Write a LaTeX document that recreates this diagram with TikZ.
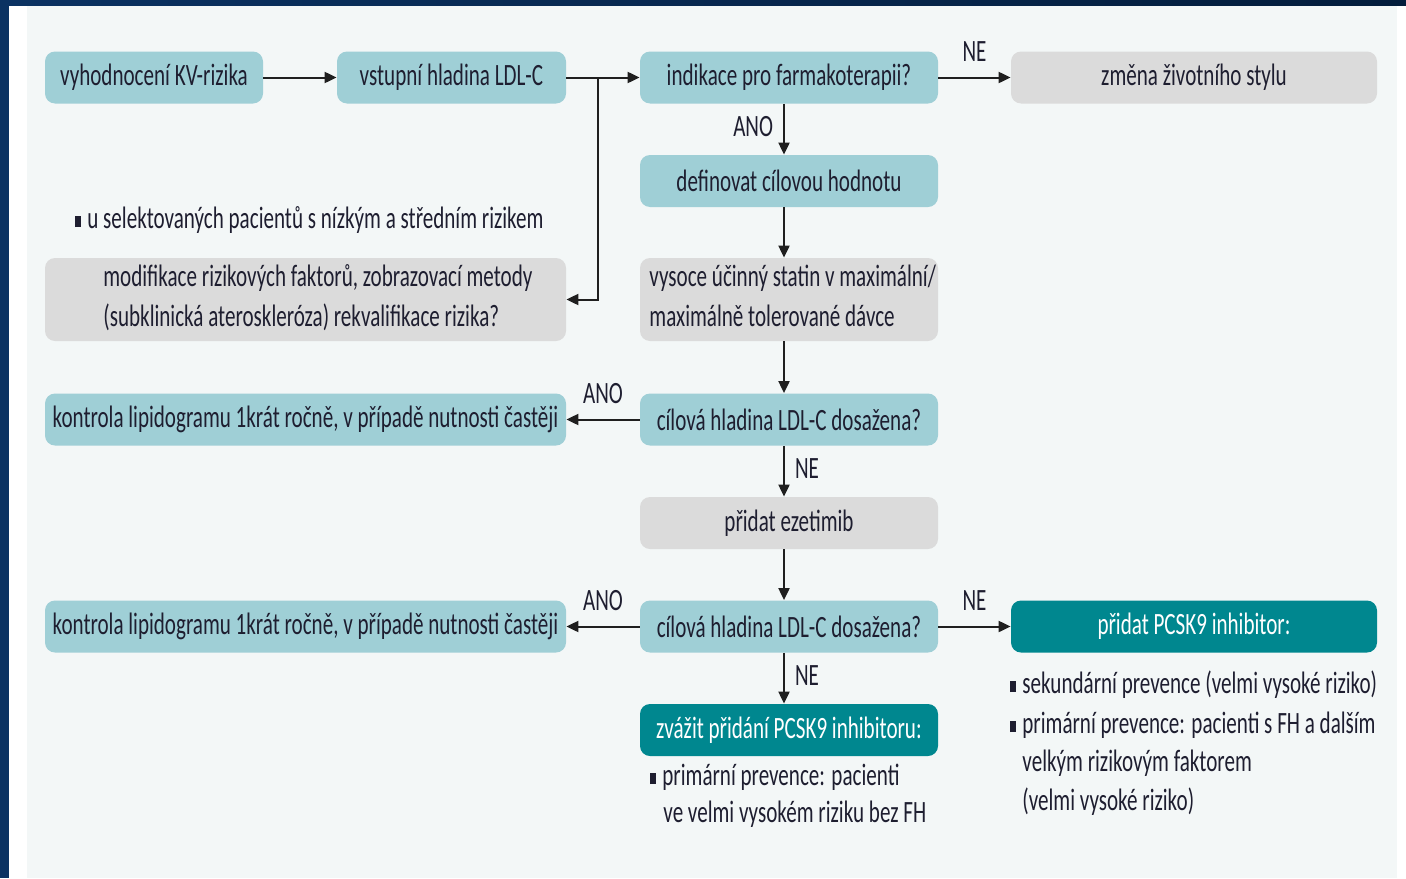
\documentclass[tikz,border=0pt]{standalone}
\usepackage{fontspec}
\setmainfont{Carlito}[FakeStretch=0.68]
\usetikzlibrary{arrows.meta}
\definecolor{navyA}{HTML}{0B3262}
\definecolor{navyB}{HTML}{031D3C}
\definecolor{panel}{HTML}{F3F7F7}
\definecolor{boxlt}{HTML}{9FCFD6}
\definecolor{boxgy}{HTML}{DBDBDB}
\definecolor{boxdk}{HTML}{00878F}
\definecolor{txt}{HTML}{1E1E30}
\newcommand\dgfont{\fontsize{15.5pt}{18.5pt}\selectfont}
\newcommand\bul{\rule[0.5pt]{2.6pt}{5.5pt}\hspace{3.4pt}}
\tikzset{
  box/.style={rounded corners=5pt, inner sep=0pt, font=\dgfont, text=txt, minimum height=26pt},
  lt/.style={box, fill=boxlt},
  gy/.style={box, fill=boxgy},
  dk/.style={box, fill=boxdk, text=white},
  lbl/.style={font=\dgfont, text=txt, inner sep=0pt, text height=10pt, text depth=3pt},
  arr/.style={-{Triangle[length=6pt,width=5.5pt]}, line width=1pt, draw=black!88},
  ln/.style={line width=1pt, draw=black!88}
}
\begin{document}
\begin{tikzpicture}[x=0.5pt,y=-0.5pt]
\useasboundingbox (0,0) rectangle (1406,878);
\fill[white] (0,0) rectangle (1406,878);
\fill[panel] (27,5) rectangle (1397,878);
\fill[navyA] (0,0) rectangle (9,878);
\shade[left color=navyA, right color=navyB] (0,0) rectangle (1406,5);

% row 1
\node[lt, minimum width=109pt] (A) at (154,77.5) {vyhodnocení KV-rizika};
\node[lt, minimum width=114.5pt] (B) at (451.5,77.5) {vstupní hladina LDL-C};
\node[lt, minimum width=149pt] (C) at (789,77.5) {indikace pro farmakoterapii?};
\node[gy, minimum width=183pt] (D) at (1194,77.5) {změna životního stylu};
% row 2
\node[lt, minimum width=149pt] (E) at (789,181) {definovat cílovou hodnotu};
\node[lbl, anchor=west] (sel) at (75,221) {\bul u selektovaných pacientů s nízkým a středním rizikem};
% row 3
\node[gy, minimum width=260.5pt, minimum height=41.5pt] (F) at (305.5,299.5) {};
\node[lbl, anchor=west] (F1) at (103,279) {modifikace rizikových faktorů, zobrazovací metody};
\node[lbl, anchor=west] (F2) at (103,319) {(subklinická ateroskleróza) rekvalifikace rizika?};
\node[gy, minimum width=149pt, minimum height=41.5pt] (G) at (789,299.5) {};
\node[lbl, anchor=west] (G1) at (649,279) {vysoce účinný statin v maximální/};
\node[lbl, anchor=west] (G2) at (649,319) {maximálně tolerované dávce};
% row 4
\node[lt, minimum width=149pt] (H) at (789,419.5) {cílová hladina LDL-C dosažena?};
\node[lt, minimum width=260.5pt] (I) at (305.5,419.5) {kontrola lipidogramu 1krát ročně, v případě nutnosti častěji};
% row 5
\node[gy, minimum width=149pt] (J) at (789,523) {přidat ezetimib};
% row 6
\node[lt, minimum width=149pt] (K) at (789,626.5) {cílová hladina LDL-C dosažena?};
\node[lt, minimum width=260.5pt] (L) at (305.5,626.5) {kontrola lipidogramu 1krát ročně, v případě nutnosti častěji};
\node[dk, minimum width=183pt] (M) at (1194,626.5) {přidat PCSK9 inhibitor:};
% row 7
\node[dk, minimum width=149pt] (N) at (789,730) {zvážit přidání PCSK9 inhibitoru:};
\node[lbl, anchor=west] (N1) at (650,778) {\bul primární prevence: pacienti};
\node[lbl, anchor=west] (N2) at (663,815) {ve velmi vysokém riziku bez FH};
\node[lbl, anchor=west] (M1) at (1010,686) {\bul sekundární prevence (velmi vysoké riziko)};
\node[lbl, anchor=west] (M2) at (1010,726) {\bul primární prevence: pacienti s FH a dalším};
\node[lbl, anchor=west] (M3) at (1022,764) {velkým rizikovým faktorem};
\node[lbl, anchor=west] (M4) at (1022,803) {(velmi vysoké riziko)};

% connectors
\draw[arr] (A) -- (B);
\draw[arr] (B) -- (C);
\coordinate (br) at (598,77.5);
\draw[arr] (br) |- (F.east);
\draw[arr] (C) -- (D) node[lbl, midway, above=4.5pt] (lNE1) {NE};
\draw[arr] ([xshift=-2.5pt]C.south) -- ([xshift=-2.5pt]E.north) node[lbl, midway, left=5pt] (lANO1) {ANO};
\draw[arr] ([xshift=-2.5pt]E.south) -- ([xshift=-2.5pt]G.north);
\draw[arr] ([xshift=-2.5pt]G.south) -- ([xshift=-2.5pt]H.north);
\draw[arr] (H) -- (I) node[lbl, midway, above=4.5pt] (lANO2) {ANO};
\draw[arr] ([xshift=-2.5pt]H.south) -- ([xshift=-2.5pt]J.north) node[lbl, midway, right=5pt] (lNE2) {NE};
\draw[arr] ([xshift=-2.5pt]J.south) -- ([xshift=-2.5pt]K.north);
\draw[arr] (K) -- (L) node[lbl, midway, above=4.5pt] (lANO3) {ANO};
\draw[arr] (K) -- (M) node[lbl, midway, above=4.5pt] (lNE3) {NE};
\draw[arr] ([xshift=-2.5pt]K.south) -- ([xshift=-2.5pt]N.north) node[lbl, midway, right=5pt] (lNE4) {NE};
\end{tikzpicture}
\end{document}
